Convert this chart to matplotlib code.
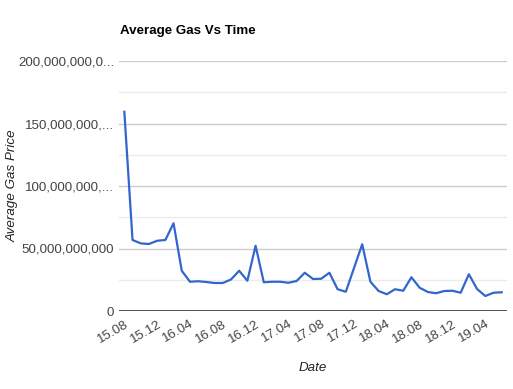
import matplotlib
matplotlib.use("Agg")
import matplotlib.pyplot as plt
from matplotlib.ticker import FixedLocator, FixedFormatter

months = ["15.08", "15.09", "15.10", "15.11", "15.12",
          "16.01", "16.02", "16.03", "16.04", "16.05", "16.06", "16.07",
          "16.08", "16.09", "16.10", "16.11", "16.12",
          "17.01", "17.02", "17.03", "17.04", "17.05", "17.06", "17.07",
          "17.08", "17.09", "17.10", "17.11", "17.12",
          "18.01", "18.02", "18.03", "18.04", "18.05", "18.06", "18.07",
          "18.08", "18.09", "18.10", "18.11", "18.12",
          "19.01", "19.02", "19.03", "19.04", "19.05", "19.06"]

avg_gas_billion = [159.4, 56.8, 54.1, 53.6, 56.2, 56.8, 70.2, 32.2, 23.4, 23.8,
                   23.2, 22.4, 22.4, 25.2, 32.2, 24.2, 52.2, 23.0, 23.4, 23.4,
                   22.6, 24.0, 30.6, 25.6, 25.8, 30.6, 17.4, 15.4, 34.4, 53.4,
                   23.4, 16.0, 13.4, 17.4, 16.2, 27.0, 18.6, 15.2, 14.2, 16.0,
                   16.2, 14.6, 29.4, 17.6, 12.0, 14.6, 15.0]
avg_gas = [v * 1e9 for v in avg_gas_billion]

ytick_values = [0, 50e9, 100e9, 150e9, 200e9]
ytick_labels = ["0", "50,000,000,000", "100,000,000,...", "150,000,000,...", "200,000,000,0..."]
minor_values = [25e9, 75e9, 125e9, 175e9]

plt.rcParams['font.family'] = ['Liberation Sans', 'DejaVu Sans']

W, H = 513, 389
fig = plt.figure(figsize=(W / 100, H / 100), dpi=100)
left, right, top, bottom = 119, 507, 61, 311
ax = fig.add_axes([left / W, 1 - bottom / H, (right - left) / W, (bottom - top) / H])

x = list(range(len(months)))
ax.plot(x, avg_gas, color="#3366cc", lw=1.6, solid_joinstyle="round", zorder=3)

ax.set_xlim(-0.65, len(months) - 1 + 0.65)
ax.set_ylim(0, 200e9)

for v in minor_values:
    ax.axhline(v, color="#ebebeb", lw=1.0, zorder=1)
for v in ytick_values[1:]:
    ax.axhline(v, color="#cccccc", lw=1.0, zorder=1)
ax.axhline(0, color="#333333", lw=1.2, zorder=4)

for s in ax.spines.values():
    s.set_visible(False)

ax.yaxis.set_major_locator(FixedLocator(ytick_values))
ax.yaxis.set_major_formatter(FixedFormatter(ytick_labels))
tick_pos = x[::4]
ax.xaxis.set_major_locator(FixedLocator(tick_pos))
ax.xaxis.set_major_formatter(FixedFormatter(months[::4]))
ax.tick_params(axis="both", length=0, labelsize=9.6, colors="#444444")
ax.tick_params(axis="y", pad=3.5)
ax.tick_params(axis="x", pad=5)
for lbl in ax.get_xticklabels():
    lbl.set_rotation(30)
    lbl.set_ha("right")
    lbl.set_rotation_mode("anchor")

fig.text(120 / W, 1 - 31 / H, "Average Gas Vs Time", fontsize=9.6, fontweight="bold",
         color="#000000", ha="left", va="center")
fig.text(13 / W, 1 - 186 / H, "Average Gas Price", fontsize=9.6, style="italic",
         color="#222222", rotation=90, ha="center", va="center")
fig.text(313 / W, 1 - 368 / H, "Date", fontsize=9.6, style="italic",
         color="#222222", ha="center", va="center")

fig.savefig("out.png", dpi=100)
